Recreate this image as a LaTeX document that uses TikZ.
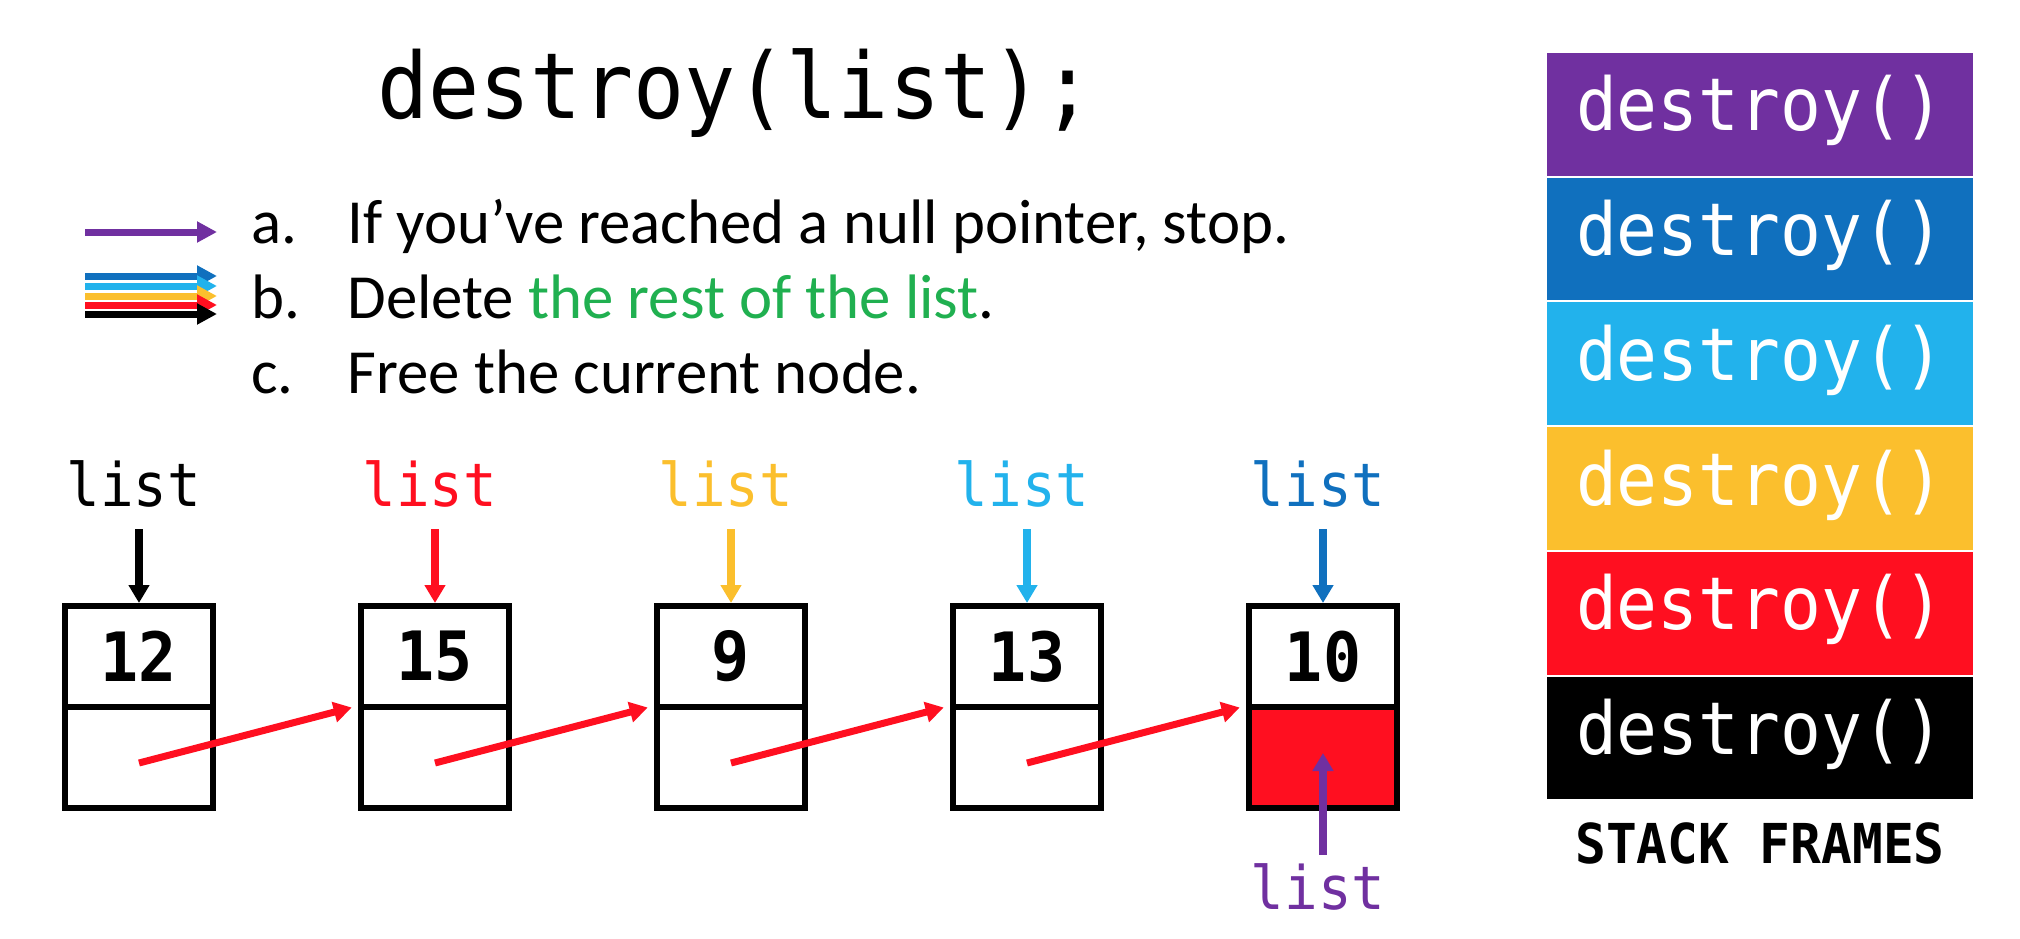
\documentclass[tikz,border=0pt]{standalone}
\usepackage{fontspec}
\setmainfont{Carlito}
\newfontfamily\code[FakeStretch=0.93]{DejaVu Sans Mono}
\usetikzlibrary{arrows.meta,calc}
\definecolor{cpurple}{HTML}{7030A0}
\definecolor{cblue}{HTML}{1070BE}
\definecolor{ccyan}{HTML}{22B2EC}
\definecolor{cyellow}{HTML}{FBBF2D}
\definecolor{cred}{HTML}{FF0F20}
\definecolor{cgreen}{HTML}{20B050}
\begin{document}
\begin{tikzpicture}[x=0.5pt,y=-0.5pt,
  cell/.style={draw=black,line width=3pt,minimum width=74.25pt,minimum height=50.5pt,inner sep=0pt,font=\code\bfseries\fontsize{34}{34}\selectfont},
  lbl/.style={inner sep=0pt,anchor=base,font=\code\fontsize{30}{30}\selectfont},
  ptr/.style={line width=3.6pt,-{Triangle[width=10pt,length=9pt]}},
  nxt/.style={cred,line width=3.5pt,-{Triangle[width=10pt,length=9pt]}},
  frame/.style={minimum width=213pt,minimum height=61.35pt,inner sep=0pt,text=white,font=\code\fontsize{36.5}{36}\selectfont,text height=26pt,text depth=9.4pt},
  legend/.style={line width=3.5pt,-{Triangle[width=10pt,length=10pt]}},
  body/.style={anchor=base west,inner sep=0pt,font=\fontsize{31.4}{36}\selectfont}]
\useasboundingbox (0,0) rectangle (2020,938);

% title
\node[anchor=base west,inner sep=0pt,font=\code\fontsize{45.7}{46}\selectfont] (title) at (377,118.5) {destroy(list);};

% steps
\node[body] (la) at (251,243) {a.};
\node[body] (ta) at (347,243) {If you’ve reached a null pointer, stop.};
\node[body] (lbb) at (251,318) {b.};
\node[body] (tb) at (347,318) {Delete \textcolor{cgreen}{the rest of the list}.};
\node[body] (lc) at (251,393) {c.};
\node[body] (tc) at (347,393) {Free the current node.};

% legend arrows
\coordinate (pa0) at (85,232); \coordinate (pa1) at (217,232);
\draw[legend,cpurple] (pa0) -- (pa1);
\foreach \c/\y in {cblue/276,ccyan/286,cyellow/296,cred/305,black/314}{
  \coordinate (s\c) at (85,\y); \coordinate (e\c) at (217,\y);
  \draw[legend,\c] (s\c) -- (e\c);
}

% list nodes
\foreach \i/\x/\v/\c in {1/139/12/black,2/435/15/cred,3/731/9/cyellow,4/1027/13/ccyan,5/1323/10/cblue}{
  \node[cell] (t\i) at (\x,656.5) {\v};
  \node[lbl,text=\c] (l\i) at (\x-5,506) {list};
  \draw[ptr,\c] ($(t\i.north |- l\i.south)+(0,22)$) -- (t\i.north);
}
\foreach \i/\x in {1/139,2/435,3/731,4/1027}{
  \node[cell] (b\i) at (\x,757) {};
}
\node[cell,fill=cred] (b5) at (1323,757) {};

\foreach \i/\j in {1/2,2/3,3/4,4/5}{
  \draw[nxt] ($(b\i.center)+(0,6)$) -- ($(b\j.north west)+(-6,4)$);
}

% purple pointer from below
\node[lbl,text=cpurple] (lb) at (1318,909) {list};
\draw[ptr,cpurple] ($(b5.center |- lb.north)+(0,-8)$) -- ($(b5.center)+(0,-4)$);

% stack frames
\foreach \i/\c in {0/cpurple,1/cblue,2/ccyan,3/cyellow,4/cred,5/black}{
  \node[frame,fill=\c] (f\i) at (1760,{114.35+124.7*\i}) {destroy()};
}
\node[anchor=base,inner sep=0pt,font=\code\bfseries\fontsize{27.5}{28}\selectfont] (sf) at (1760,863) {STACK FRAMES};
\end{tikzpicture}
\end{document}
